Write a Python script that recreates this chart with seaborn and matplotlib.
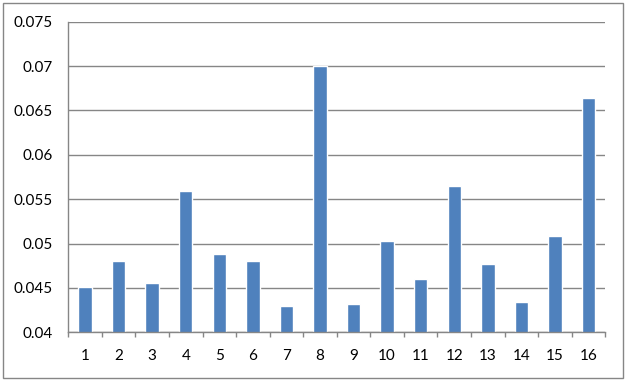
import matplotlib
matplotlib.use("Agg")
import matplotlib.pyplot as plt
import matplotlib.patches as mpatches
import seaborn as sns
import pandas as pd
import numpy as np

categories = [str(i) for i in range(1, 17)]
values = [0.0451, 0.0480, 0.0456, 0.0559, 0.0488, 0.0480, 0.0430, 0.0700,
          0.0432, 0.0503, 0.0460, 0.0565, 0.0477, 0.0434, 0.0508, 0.0664]
y_ticks = [0.04, 0.045, 0.05, 0.055, 0.06, 0.065, 0.07, 0.075]
y_tick_labels = ["0.04", "0.045", "0.05", "0.055", "0.06", "0.065", "0.07", "0.075"]

sns.set_theme(style="white")
plt.rcParams['font.family'] = ['Lato', 'DejaVu Sans']

GRID = "#868686"
BAR = "#4F81BD"

fig = plt.figure(figsize=(6.28, 3.81), dpi=100)
fig.patch.set_facecolor("white")
ax = fig.add_axes([68.3 / 628, 1 - 332.3 / 381, (605.3 - 68.3) / 628, (332.3 - 21.7) / 381])

df = pd.DataFrame({"cat": categories, "val": values})
sns.barplot(data=df, x="cat", y="val", color=BAR, saturation=1, width=0.4, ax=ax)

ax.set_xlim(-0.5, len(categories) - 0.5)
ax.set_ylim(0.04, 0.075)
ax.set_yticks(y_ticks)
ax.set_yticklabels(y_tick_labels)
ax.set_yticks([0.04], minor=True)
ax.set_xticks(np.arange(-0.5, len(categories)), minor=True)
ax.set_xlabel("")
ax.set_ylabel("")

ax.grid(axis="y", color=GRID, linewidth=1.0)
ax.set_axisbelow(True)
for s in ["top", "right"]:
    ax.spines[s].set_visible(False)
for s in ["left", "bottom"]:
    ax.spines[s].set_color(GRID)
    ax.spines[s].set_linewidth(1.0)

ax.tick_params(axis="both", which="major", length=0, labelsize=11, colors="black")
ax.tick_params(axis="y", which="major", pad=11.5)
ax.tick_params(axis="x", which="major", pad=12)
ax.tick_params(axis="x", which="minor", length=3.6, width=1.0, color=GRID, direction="out", bottom=True)
ax.tick_params(axis="y", which="minor", length=3.6, width=1.0, color=GRID, direction="out", left=True)

border = mpatches.Rectangle((2.5 / 628, 3.5 / 381), (623 - 2.5) / 628, (378.5 - 3.5) / 381,
                            transform=fig.transFigure, fill=False, edgecolor=GRID, linewidth=1.0)
fig.patches.append(border)

fig.savefig("out.png", dpi=100, facecolor="white")
